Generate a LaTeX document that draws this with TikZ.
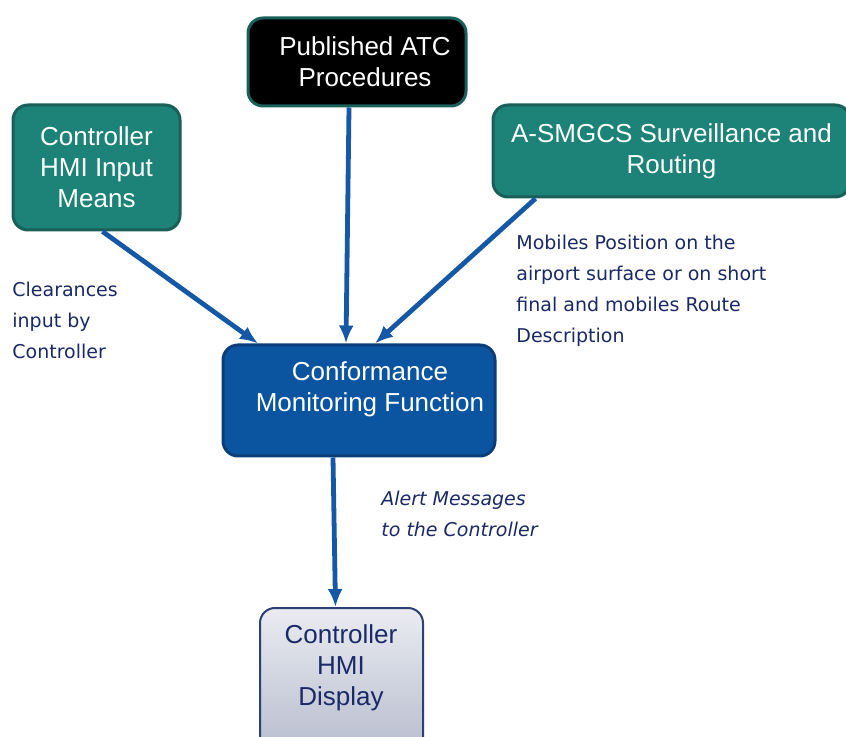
\documentclass[tikz,border=0pt]{standalone}
\usepackage{fontspec}
\setmainfont{Liberation Sans}
\newfontfamily\notefont{DejaVu Sans}
\usetikzlibrary{arrows.meta,positioning}
\definecolor{tealfill}{HTML}{1D8278}
\definecolor{tealedge}{HTML}{1A5F58}
\definecolor{cmffill}{HTML}{0B55A0}
\definecolor{cmfedge}{HTML}{0B3E78}
\definecolor{flowblue}{HTML}{1558A6}
\definecolor{notenavy}{HTML}{1B2A66}
\definecolor{dispedge}{HTML}{2E3F72}

\begin{document}
\begin{tikzpicture}[x=0.5pt, y=-0.5pt,
    box/.style={rounded corners=7.5pt, line width=1.5pt, text=white, align=center, font=\fontsize{13}{15.5}\selectfont, inner sep=0pt},
    note/.style={anchor=north west, align=left, inner sep=0pt, text=notenavy, font=\notefont\fontsize{9.5}{15.5}\selectfont},
    flow/.style={draw=flowblue, line width=2.4pt, -{Latex[length=9pt, width=7.5pt]}}]

    \useasboundingbox[fill=white] (0,0) rectangle (846,737);

    \node[box, fill=black, draw=tealedge, minimum width=109pt, minimum height=44pt]       (pubatc)  at (357,62)    {\hspace*{8pt}Published ATC\\\hspace*{8pt}Procedures};
    \node[box, fill=tealfill, draw=tealedge, minimum width=83.5pt, minimum height=62.5pt] (hmiin)   at (96.5,167.5) {Controller\\HMI Input\\Means};
    \node[box, fill=tealfill, draw=tealedge, minimum width=178.5pt, minimum height=46pt]  (smgcs)   at (671.5,151) {A-SMGCS Surveillance and\\Routing};
    \node[box, fill=cmffill, draw=cmfedge, minimum width=136pt, minimum height=55.5pt]    (cmf)     at (359,400.5) {};
    \node[box]                                                                             (cmftext) at (370,389.5) {Conformance\\Monitoring Function};
    \node[box, draw=dispedge, line width=1pt, top color=white!90!dispedge, bottom color=dispedge!35,
          minimum width=81.5pt, minimum height=74pt]                                       (hmidisp) at (341.5,682) {};
    \node[box, text=notenavy]                                                              (disptext) at (341,668) {Controller\\HMI\\Display};

    % data flows
    \draw[flow] ([xshift=3pt]hmiin.south)   -- ([xshift=-50.5pt]cmf.north);
    \draw[flow] ([xshift=-4pt]pubatc.south) -- ([xshift=-6.5pt]cmf.north);
    \draw[flow] ([xshift=-68pt]smgcs.south) -- ([xshift=8pt]cmf.north);
    \draw[flow] ([xshift=-13pt]cmf.south)   -- ([xshift=-3pt]hmidisp.north);

    \node[note] (clrnote)   at (12,282)  {Clearances\\input by\\Controller};
    \node[note] (posnote)   at (516,235) {Mobiles Position on the\\airport surface or on short\\final and mobiles Route\\Description};
    \node[note, font=\notefont\itshape\fontsize{9.5}{15.5}\selectfont] (alertnote) at (381,491) {Alert Messages\\to the Controller};

\end{tikzpicture}
\end{document}
